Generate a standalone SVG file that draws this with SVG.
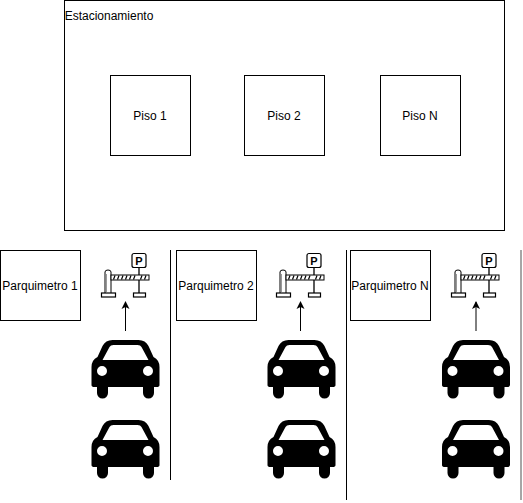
<svg xmlns="http://www.w3.org/2000/svg" xmlns:xlink="http://www.w3.org/1999/xlink" width="523" height="503" viewBox="0 0 523 503">
<style>
text{font-family:"Liberation Sans",Arial,Helvetica,sans-serif;font-size:12px;fill:#000;text-anchor:middle}
.box{fill:#fff;stroke:#000;stroke-width:1}
.ln{stroke:#000;stroke-width:1;fill:none}
</style>
<defs>
<marker id="ah" markerWidth="9" markerHeight="9" refX="7" refY="4.5" orient="auto" markerUnits="userSpaceOnUse"><path d="M0 0.5L8 4.5L0 8.500L2 4.500Z" fill="#000"/></marker>
<symbol id="car" width="70" height="60" viewBox="0 0 70 60" overflow="visible">
<path fill-rule="evenodd" d="M22 0H48Q55 0 58 6L63 17Q69 20 69 27V45Q69 47 66 47H63.500V53A5.500 5.500 0 0 1 52.500 53V47H17.500V53A5.500 5.500 0 0 1 6.500 53V47H4Q1 47 1 45V27Q1 20 7 17L12 6Q15 0 22 0ZM23 5Q20 5 19 7L12 20H58L51 7Q50 5 47 5ZM11.500 26A5 5 0 1 0 11.500 36A5 5 0 1 0 11.500 26ZM57.500 26A5 5 0 1 0 57.500 36A5 5 0 1 0 57.500 26Z" fill="#000"/>
</symbol>
<symbol id="gate" width="50" height="46" viewBox="0 0 50 46" overflow="visible">
<rect x="31.500" y="1.500" width="14" height="14" rx="2" fill="#fff" stroke="#000" stroke-width="1.200"/>
<text x="38.500" y="12.500" style="font-size:11px;font-weight:bold;font-family:'Liberation Sans',sans-serif">P</text>
<path d="M38.500 15.500V41" stroke="#000" stroke-width="1.300" fill="none"/>
<path d="M4.500 41V20Q4.500 18 7.500 18Q10.500 18 10.500 20V41" fill="#fff" stroke="#000" stroke-width="1"/>
<path d="M6 22V40" stroke="#999" stroke-width="1"/>
<rect x="1" y="41" width="14" height="4" fill="#fff" stroke="#000" stroke-width="1.200"/>
<rect x="33" y="41" width="12" height="4" fill="#fff" stroke="#000" stroke-width="1.200"/>
<rect x="10.500" y="23" width="38" height="5" fill="#fff" stroke="#000" stroke-width="1"/>
<path d="M13 27.500L14.500 23.500M17 27.500L18.500 23.500M21 27.500L22.500 23.500M25 27.500L26.500 23.500M29 27.500L30.500 23.500M33 27.500L34.500 23.500M40 27.500L41.500 23.500M44 27.500L45.500 23.500" stroke="#000" stroke-width="1.200"/>
</symbol>
</defs>
<rect width="523" height="503" fill="#fff"/>
<g id="estacionamiento"><rect class="box" x="64.500" y="0.500" width="440" height="230"/><text x="109" y="20">Estacionamiento</text></g>
<g id="piso1"><rect class="box" x="110.500" y="75.500" width="80" height="80"/><text x="150" y="120">Piso 1</text></g>
<g id="piso2"><rect class="box" x="244.500" y="75.500" width="80" height="80"/><text x="284" y="120">Piso 2</text></g>
<g id="pisoN"><rect class="box" x="380.500" y="75.500" width="80" height="80"/><text x="420" y="120">Piso N</text></g>
<g id="parquimetro1"><rect class="box" x="0.500" y="250.500" width="80" height="70"/><text x="40" y="290">Parquimetro 1</text></g>
<g id="parquimetro2"><rect class="box" x="176.500" y="250.500" width="80" height="70"/><text x="216" y="290">Parquimetro 2</text></g>
<g id="parquimetroN"><rect class="box" x="350.500" y="250.500" width="80" height="70"/><text x="390" y="290">Parquimetro N</text></g>
<g id="gate1"><use xlink:href="#gate" href="#gate" x="100.500" y="252"/></g>
<g id="gate2"><use xlink:href="#gate" href="#gate" x="275.500" y="252"/></g>
<g id="gateN"><use xlink:href="#gate" href="#gate" x="450.500" y="252"/></g>
<g id="car1a"><use xlink:href="#car" href="#car" x="90.500" y="340"/></g>
<g id="car1b"><use xlink:href="#car" href="#car" x="90.500" y="420"/></g>
<g id="car2a"><use xlink:href="#car" href="#car" x="266.500" y="340"/></g>
<g id="car2b"><use xlink:href="#car" href="#car" x="266.500" y="420"/></g>
<g id="carNa"><use xlink:href="#car" href="#car" x="441" y="340"/></g>
<g id="carNb"><use xlink:href="#car" href="#car" x="441" y="420"/></g>
<g id="connectors">
<path class="ln" d="M125.500 331V302" marker-end="url(#ah)"/>
<path class="ln" d="M300.500 331V302" marker-end="url(#ah)"/>
<path class="ln" d="M476 331V302" marker-end="url(#ah)"/>
<path class="ln" d="M170.500 250V480"/>
<path class="ln" d="M346.500 250V500"/>
<path d="M521 250V500" stroke="#888" stroke-width="1.500" fill="none"/>
</g>
</svg>
